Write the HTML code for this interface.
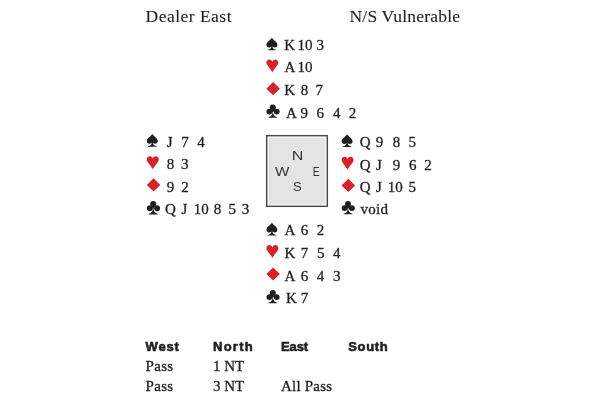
<!DOCTYPE html>
<html><head><meta charset="utf-8"><style>
html,body{margin:0;padding:0;background:#fff;width:600px;height:400px;overflow:hidden}
svg{display:block;will-change:transform}
text{font-family:"Liberation Serif",serif;fill:#231f20;stroke:#231f20;stroke-width:0.3px}
.sans{font-family:"Liberation Sans",sans-serif}
.cmp{stroke:none;fill:#333}
.bh{stroke-width:0.6px}
.hd{stroke-width:0.1px}
</style></head><body>
<svg width="600" height="400" viewBox="0 0 600 400">
<rect x="0" y="0" width="600" height="400" fill="#fff"/>
<text class="hd" x="145.6" y="22.3" font-size="17.5" textLength="85.9">Dealer East</text>
<text class="hd" x="349.5" y="22.3" font-size="17.5" textLength="110.5">N/S Vulnerable</text>
<rect x="266.75" y="135.75" width="60.5" height="70.5" fill="#e4e4e4" stroke="#484848" stroke-width="1.6"/>
<rect x="268.1" y="137.1" width="57.8" height="67.8" fill="none" stroke="#fafafa" stroke-width="0.9"/>
<text class="sans cmp" x="297.6" y="160.3" text-anchor="middle" font-size="13" textLength="11.6" lengthAdjust="spacingAndGlyphs">N</text>
<text class="sans cmp" x="282.15" y="176.3" text-anchor="middle" font-size="13" textLength="14.4" lengthAdjust="spacingAndGlyphs">W</text>
<text class="sans cmp" x="316.15" y="176.3" text-anchor="middle" font-size="13" textLength="6.9" lengthAdjust="spacingAndGlyphs">E</text>
<text class="sans cmp" x="297.25" y="191.4" text-anchor="middle" font-size="13">S</text>
<path transform="translate(266.4,50.3)" d="M5.5,-12.6 C4.4,-10.4 0,-8.6 0,-5.6 C0,-3.8 1.2,-2.9 2.6,-2.9 C3.6,-2.9 4.4,-3.3 5.0,-3.9 C4.9,-2 3.4,-0.7 1.2,-0.5 L1.2,0 L9.8,0 L9.8,-0.5 C7.6,-0.7 6.1,-2 6.0,-3.9 C6.6,-3.3 7.4,-2.9 8.4,-2.9 C9.8,-2.9 11,-3.8 11,-5.6 C11,-8.6 6.6,-10.4 5.5,-12.6 Z" fill="#231f20"/>
<text x="289.7" y="50.3" text-anchor="middle" font-size="15" >K</text>
<text x="305" y="50.3" text-anchor="middle" font-size="15" >10</text>
<text x="320.3" y="50.3" text-anchor="middle" font-size="15" >3</text>
<path transform="translate(266.4,72.4)" d="M6,-10.6 C5.4,-12.3 4.2,-13 3,-13 C1.2,-13 0,-11.6 0,-9.8 C0,-7.2 3.8,-4.5 6,0 C8.2,-4.5 12,-7.2 12,-9.8 C12,-11.6 10.8,-13 9,-13 C7.8,-13 6.6,-12.3 6,-10.6 Z" fill="#d6222a"/>
<text x="289.8" y="72.4" text-anchor="middle" font-size="15" >A</text>
<text x="305" y="72.4" text-anchor="middle" font-size="15" >10</text>
<path transform="translate(266.4,95.3)" d="M6.7,-13.2 L13.5,-6.6 L6.7,0 L0,-6.6 Z" fill="#d6222a"/>
<text x="289.7" y="95.3" text-anchor="middle" font-size="15" >K</text>
<text x="304.5" y="95.3" text-anchor="middle" font-size="15" >8</text>
<text x="319.3" y="95.3" text-anchor="middle" font-size="15" >7</text>
<g transform="translate(266.4,117.7)" fill="#231f20"><circle cx="6.4" cy="-10.2" r="3.05"/><circle cx="3.0" cy="-6.1" r="2.95"/><circle cx="10.3" cy="-6.1" r="2.95"/><path d="M4.2,-8.5 L8.6,-8.5 L6.4,-5 Z"/><path d="M6.4,-7 C6.3,-3.2 4.8,-1 2.0,-0.5 L2.0,0.1 L10.8,0.1 L10.8,-0.5 C8,-1 6.5,-3.2 6.4,-7 Z"/></g>
<text x="291.3" y="117.7" text-anchor="middle" font-size="15" >A</text>
<text x="304.3" y="117.7" text-anchor="middle" font-size="15" >9</text>
<text x="320.3" y="117.7" text-anchor="middle" font-size="15" >6</text>
<text x="336.8" y="117.7" text-anchor="middle" font-size="15" >4</text>
<text x="352.5" y="117.7" text-anchor="middle" font-size="15" >2</text>
<path transform="translate(146.8,146.7)" d="M5.5,-12.6 C4.4,-10.4 0,-8.6 0,-5.6 C0,-3.8 1.2,-2.9 2.6,-2.9 C3.6,-2.9 4.4,-3.3 5.0,-3.9 C4.9,-2 3.4,-0.7 1.2,-0.5 L1.2,0 L9.8,0 L9.8,-0.5 C7.6,-0.7 6.1,-2 6.0,-3.9 C6.6,-3.3 7.4,-2.9 8.4,-2.9 C9.8,-2.9 11,-3.8 11,-5.6 C11,-8.6 6.6,-10.4 5.5,-12.6 Z" fill="#231f20"/>
<text x="169.6" y="146.7" text-anchor="middle" font-size="15" >J</text>
<text x="184.9" y="146.7" text-anchor="middle" font-size="15" >7</text>
<text x="201.1" y="146.7" text-anchor="middle" font-size="15" >4</text>
<path transform="translate(146.8,169.2)" d="M6,-10.6 C5.4,-12.3 4.2,-13 3,-13 C1.2,-13 0,-11.6 0,-9.8 C0,-7.2 3.8,-4.5 6,0 C8.2,-4.5 12,-7.2 12,-9.8 C12,-11.6 10.8,-13 9,-13 C7.8,-13 6.6,-12.3 6,-10.6 Z" fill="#d6222a"/>
<text x="170.4" y="169.2" text-anchor="middle" font-size="15" >8</text>
<text x="184.8" y="169.2" text-anchor="middle" font-size="15" >3</text>
<path transform="translate(146.8,191.5)" d="M6.7,-13.2 L13.5,-6.6 L6.7,0 L0,-6.6 Z" fill="#d6222a"/>
<text x="170.4" y="191.5" text-anchor="middle" font-size="15" >9</text>
<text x="185" y="191.5" text-anchor="middle" font-size="15" >2</text>
<g transform="translate(146.8,214.3)" fill="#231f20"><circle cx="6.4" cy="-10.2" r="3.05"/><circle cx="3.0" cy="-6.1" r="2.95"/><circle cx="10.3" cy="-6.1" r="2.95"/><path d="M4.2,-8.5 L8.6,-8.5 L6.4,-5 Z"/><path d="M6.4,-7 C6.3,-3.2 4.8,-1 2.0,-0.5 L2.0,0.1 L10.8,0.1 L10.8,-0.5 C8,-1 6.5,-3.2 6.4,-7 Z"/></g>
<text x="170.4" y="214.3" text-anchor="middle" font-size="15" >Q</text>
<text x="184.4" y="214.3" text-anchor="middle" font-size="15" >J</text>
<text x="201.2" y="214.3" text-anchor="middle" font-size="15" >10</text>
<text x="217.5" y="214.3" text-anchor="middle" font-size="15" >8</text>
<text x="232.3" y="214.3" text-anchor="middle" font-size="15" >5</text>
<text x="245.6" y="214.3" text-anchor="middle" font-size="15" >3</text>
<path transform="translate(341.6,146.9)" d="M5.5,-12.6 C4.4,-10.4 0,-8.6 0,-5.6 C0,-3.8 1.2,-2.9 2.6,-2.9 C3.6,-2.9 4.4,-3.3 5.0,-3.9 C4.9,-2 3.4,-0.7 1.2,-0.5 L1.2,0 L9.8,0 L9.8,-0.5 C7.6,-0.7 6.1,-2 6.0,-3.9 C6.6,-3.3 7.4,-2.9 8.4,-2.9 C9.8,-2.9 11,-3.8 11,-5.6 C11,-8.6 6.6,-10.4 5.5,-12.6 Z" fill="#231f20"/>
<text x="365.2" y="146.9" text-anchor="middle" font-size="15" >Q</text>
<text x="379.6" y="146.9" text-anchor="middle" font-size="15" >9</text>
<text x="396.4" y="146.9" text-anchor="middle" font-size="15" >8</text>
<text x="412.3" y="146.9" text-anchor="middle" font-size="15" >5</text>
<path transform="translate(341.6,169.7)" d="M6,-10.6 C5.4,-12.3 4.2,-13 3,-13 C1.2,-13 0,-11.6 0,-9.8 C0,-7.2 3.8,-4.5 6,0 C8.2,-4.5 12,-7.2 12,-9.8 C12,-11.6 10.8,-13 9,-13 C7.8,-13 6.6,-12.3 6,-10.6 Z" fill="#d6222a"/>
<text x="365.2" y="169.7" text-anchor="middle" font-size="15" >Q</text>
<text x="378.8" y="169.7" text-anchor="middle" font-size="15" >J</text>
<text x="396.4" y="169.7" text-anchor="middle" font-size="15" >9</text>
<text x="412.7" y="169.7" text-anchor="middle" font-size="15" >6</text>
<text x="428" y="169.7" text-anchor="middle" font-size="15" >2</text>
<path transform="translate(341.6,192.0)" d="M6.7,-13.2 L13.5,-6.6 L6.7,0 L0,-6.6 Z" fill="#d6222a"/>
<text x="365.2" y="192.0" text-anchor="middle" font-size="15" >Q</text>
<text x="378.9" y="192.0" text-anchor="middle" font-size="15" >J</text>
<text x="395.2" y="192.0" text-anchor="middle" font-size="15" >10</text>
<text x="412.3" y="192.0" text-anchor="middle" font-size="15" >5</text>
<g transform="translate(341.6,214.2)" fill="#231f20"><circle cx="6.4" cy="-10.2" r="3.05"/><circle cx="3.0" cy="-6.1" r="2.95"/><circle cx="10.3" cy="-6.1" r="2.95"/><path d="M4.2,-8.5 L8.6,-8.5 L6.4,-5 Z"/><path d="M6.4,-7 C6.3,-3.2 4.8,-1 2.0,-0.5 L2.0,0.1 L10.8,0.1 L10.8,-0.5 C8,-1 6.5,-3.2 6.4,-7 Z"/></g>
<path transform="translate(266.4,235.4)" d="M5.5,-12.6 C4.4,-10.4 0,-8.6 0,-5.6 C0,-3.8 1.2,-2.9 2.6,-2.9 C3.6,-2.9 4.4,-3.3 5.0,-3.9 C4.9,-2 3.4,-0.7 1.2,-0.5 L1.2,0 L9.8,0 L9.8,-0.5 C7.6,-0.7 6.1,-2 6.0,-3.9 C6.6,-3.3 7.4,-2.9 8.4,-2.9 C9.8,-2.9 11,-3.8 11,-5.6 C11,-8.6 6.6,-10.4 5.5,-12.6 Z" fill="#231f20"/>
<text x="289.8" y="235.4" text-anchor="middle" font-size="15" >A</text>
<text x="304.6" y="235.4" text-anchor="middle" font-size="15" >6</text>
<text x="320.6" y="235.4" text-anchor="middle" font-size="15" >2</text>
<path transform="translate(266.4,258.0)" d="M6,-10.6 C5.4,-12.3 4.2,-13 3,-13 C1.2,-13 0,-11.6 0,-9.8 C0,-7.2 3.8,-4.5 6,0 C8.2,-4.5 12,-7.2 12,-9.8 C12,-11.6 10.8,-13 9,-13 C7.8,-13 6.6,-12.3 6,-10.6 Z" fill="#d6222a"/>
<text x="290" y="258.0" text-anchor="middle" font-size="15" >K</text>
<text x="304.4" y="258.0" text-anchor="middle" font-size="15" >7</text>
<text x="320.8" y="258.0" text-anchor="middle" font-size="15" >5</text>
<text x="336.7" y="258.0" text-anchor="middle" font-size="15" >4</text>
<path transform="translate(266.4,280.6)" d="M6.7,-13.2 L13.5,-6.6 L6.7,0 L0,-6.6 Z" fill="#d6222a"/>
<text x="289.8" y="280.6" text-anchor="middle" font-size="15" >A</text>
<text x="304.4" y="280.6" text-anchor="middle" font-size="15" >6</text>
<text x="320.6" y="280.6" text-anchor="middle" font-size="15" >4</text>
<text x="336.8" y="280.6" text-anchor="middle" font-size="15" >3</text>
<g transform="translate(266.4,303.2)" fill="#231f20"><circle cx="6.4" cy="-10.2" r="3.05"/><circle cx="3.0" cy="-6.1" r="2.95"/><circle cx="10.3" cy="-6.1" r="2.95"/><path d="M4.2,-8.5 L8.6,-8.5 L6.4,-5 Z"/><path d="M6.4,-7 C6.3,-3.2 4.8,-1 2.0,-0.5 L2.0,0.1 L10.8,0.1 L10.8,-0.5 C8,-1 6.5,-3.2 6.4,-7 Z"/></g>
<text x="291.4" y="303.2" text-anchor="middle" font-size="15" >K</text>
<text x="304.4" y="303.2" text-anchor="middle" font-size="15" >7</text>
<text x="360.4" y="214.2" text-anchor="start" font-size="15" textLength="27.6">void</text>
<text class="sans bh" x="145.6" y="351" font-size="13" font-weight="bold" textLength="33.2">West</text>
<text class="sans bh" x="213" y="351" font-size="13" font-weight="bold" textLength="39.7">North</text>
<text class="sans bh" x="281" y="351" font-size="13" font-weight="bold" textLength="27.2">East</text>
<text class="sans bh" x="348.2" y="351" font-size="13" font-weight="bold" textLength="39.6">South</text>
<text x="145.6" y="370.5" font-size="15" textLength="27.5">Pass</text>
<text x="213" y="370.5" font-size="15">1 NT</text>
<text x="145.6" y="390.5" font-size="15" textLength="27.5">Pass</text>
<text x="213" y="390.5" font-size="15">3 NT</text>
<text x="281" y="390.5" font-size="15" textLength="51.1">All Pass</text>
</svg>
</body></html>
